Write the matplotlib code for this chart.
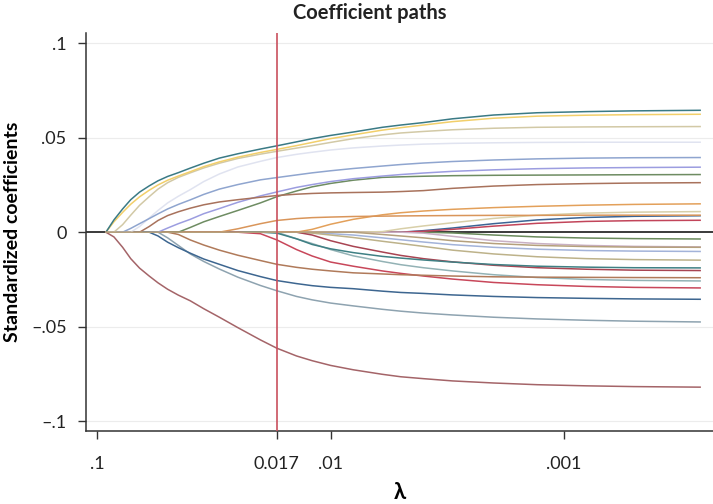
import matplotlib
matplotlib.use("Agg")
import matplotlib.pyplot as plt
from matplotlib.ticker import NullLocator

plt.rcParams['font.family'] = ['Lato', 'DejaVu Sans']

# ----------------------------
# lambda grid
# ----------------------------
lam = [0.092, 0.085, 0.078, 0.072, 0.066, 0.06, 0.055, 0.05, 0.045, 0.04,
       0.035, 0.03, 0.025, 0.02, 0.017, 0.014, 0.012, 0.01, 0.008, 0.006,
       0.005, 0.004, 0.003, 0.002, 0.0013, 0.0008, 0.0005, 0.00026]
lam_cv = 0.017

# ----------------------------
# coefficient paths, positive side
# ----------------------------
teal_a = [0, 0.0065, 0.0123, 0.0172, 0.0212, 0.0245, 0.0272, 0.0295, 0.0315, 0.0339,
          0.0365, 0.0392, 0.0415, 0.0440, 0.0457, 0.0478, 0.0495, 0.0512, 0.0530, 0.0555,
          0.0567, 0.0580, 0.0600, 0.0620, 0.0632, 0.0638, 0.0642, 0.0645]
gold_a = [0, 0.0055, 0.0105, 0.0148, 0.0187, 0.0222, 0.025, 0.0275, 0.0297, 0.032,
          0.0347, 0.0372, 0.0397, 0.0422, 0.0438, 0.0458, 0.0475, 0.0495, 0.0515, 0.054,
          0.0553, 0.0567, 0.0585, 0.0603, 0.0614, 0.0619, 0.0622, 0.0624]
beige_a = [0, 0, 0.004, 0.009, 0.0142, 0.0188, 0.0228, 0.0262, 0.029, 0.0314,
           0.034, 0.0365, 0.039, 0.0413, 0.0428, 0.0445, 0.0458, 0.0475, 0.0495, 0.0515,
           0.0525, 0.0533, 0.0542, 0.055, 0.0555, 0.0557, 0.0558, 0.0559]
lav_a = [0, 0, 0, 0, 0.003, 0.0075, 0.0115, 0.0155, 0.019, 0.0225,
         0.0268, 0.0308, 0.0345, 0.0375, 0.0395, 0.0412, 0.0423, 0.0435, 0.0446, 0.0456,
         0.0461, 0.0466, 0.047, 0.0473, 0.0475, 0.0476, 0.0476, 0.0476]
steel_a = [0, 0, 0, 0.002, 0.0045, 0.0072, 0.0097, 0.0123, 0.0147, 0.0171,
           0.0200, 0.0228, 0.0252, 0.0277, 0.0289, 0.0303, 0.0314, 0.0325, 0.0337, 0.035,
           0.0358, 0.0366, 0.0374, 0.0382, 0.0388, 0.0392, 0.0394, 0.0395]
sienna_a = [0, 0, 0, 0, 0, 0.003, 0.0062, 0.0088, 0.0108, 0.0127,
            0.0145, 0.016, 0.0172, 0.0185, 0.0194, 0.0201, 0.0205, 0.0208, 0.021, 0.0212,
            0.0215, 0.022, 0.0232, 0.0244, 0.0252, 0.0257, 0.026, 0.0262]
purple_a = [0, 0, 0, 0, 0, 0, 0, 0.0022, 0.0045, 0.0068,
            0.0098, 0.0125, 0.0158, 0.0192, 0.0213, 0.0237, 0.0252, 0.0268, 0.0283, 0.0297,
            0.0305, 0.0313, 0.0322, 0.033, 0.0336, 0.034, 0.0342, 0.0344]
green_a = [0, 0, 0, 0, 0, 0, 0, 0, 0, 0.0025,
           0.0055, 0.0083, 0.0115, 0.0155, 0.0188, 0.0218, 0.024, 0.0258, 0.0275, 0.029,
           0.0293, 0.0296, 0.0299, 0.0301, 0.0302, 0.0303, 0.0304, 0.0305]
orange_a = [0, 0, 0, 0, 0, 0, 0, 0, 0, 0,
            0, 0, 0, 0, 0, 0, 0.0015, 0.0042, 0.0068, 0.0092,
            0.0103, 0.0112, 0.0121, 0.013, 0.0137, 0.0143, 0.0147, 0.015]
dkorange_a = [0, 0, 0, 0, 0, 0, 0, 0, 0, 0,
              0, 0, 0.0018, 0.0045, 0.0062, 0.0072, 0.0077, 0.008, 0.0083, 0.0085,
              0.0086, 0.0087, 0.0088, 0.0089, 0.0089, 0.009, 0.009, 0.009]
tan_a = [0, 0, 0, 0, 0, 0, 0, 0, 0, 0,
         0, 0, 0, 0, 0, 0, 0, 0, 0, 0.0003,
         0.0018, 0.0033, 0.005, 0.0073, 0.009, 0.0101, 0.0106, 0.0109]
navy_a = [0, 0, 0, 0, 0, 0, 0, 0, 0, 0,
          0, 0, 0, 0, 0, 0, 0, 0, 0, 0,
          0, 0.0008, 0.0022, 0.0045, 0.0065, 0.0078, 0.0084, 0.0087]
red_a = [0, 0, 0, 0, 0, 0, 0, 0, 0, 0,
         0, 0, 0, 0, 0, 0, 0, 0, 0, 0,
         0, 0.0005, 0.0015, 0.0032, 0.0047, 0.0057, 0.0061, 0.0063]

# ----------------------------
# coefficient paths, negative side
# ----------------------------
maroon_b = [0, -0.0025, -0.008, -0.014, -0.019, -0.0232, -0.0268, -0.0302, -0.0333, -0.0363,
            -0.0405, -0.045, -0.0505, -0.057, -0.0614, -0.0655, -0.068, -0.0705, -0.0728, -0.0752,
            -0.0765, -0.0775, -0.0787, -0.0798, -0.0807, -0.0813, -0.0817, -0.082]
navy_b = [0, 0, 0, 0, 0, 0, -0.002, -0.0053, -0.0082, -0.0111,
          -0.0142, -0.0170, -0.0203, -0.0235, -0.0256, -0.0272, -0.0283, -0.0292, -0.0299, -0.0312,
          -0.0319, -0.0324, -0.0332, -0.034, -0.0346, -0.035, -0.0353, -0.0355]
grey_b = [0, 0, 0, 0, 0, 0, 0, -0.003, -0.007, -0.0115,
          -0.0155, -0.0195, -0.0238, -0.0282, -0.0310, -0.0340, -0.0358, -0.0375, -0.039, -0.0408,
          -0.0418, -0.0428, -0.0438, -0.045, -0.0459, -0.0466, -0.0471, -0.0475]
sienna_b = [0, 0, 0, 0, 0, 0, 0, 0, -0.0012, -0.0041,
            -0.0068, -0.0095, -0.0122, -0.015, -0.0170, -0.0186, -0.0196, -0.0205, -0.0215, -0.0221,
            -0.0225, -0.0228, -0.0232, -0.0236, -0.0238, -0.0239, -0.024, -0.0241]
red_b = [0, 0, 0, 0, 0, 0, 0, 0, 0, 0,
         0, 0, 0, -0.0008, -0.0041, -0.0092, -0.0126, -0.0158, -0.0180, -0.0205,
         -0.0218, -0.0232, -0.0248, -0.0266, -0.0278, -0.0287, -0.0292, -0.0295]
crimson_b = [0, 0, 0, 0, 0, 0, 0, 0, 0, 0,
             0, 0, 0, 0, 0, 0, -0.0015, -0.0045, -0.0075, -0.0105,
             -0.0123, -0.014, -0.0157, -0.0175, -0.0188, -0.0196, -0.0201, -0.0203]
teal_b = [0, 0, 0, 0, 0, 0, 0, 0, 0, 0,
          0, 0, 0, 0, -0.0005, -0.0035, -0.0065, -0.0088, -0.0108, -0.0128,
          -0.0137, -0.0147, -0.0158, -0.0171, -0.018, -0.0185, -0.0188, -0.0189]
greyteal_b = [0, 0, 0, 0, 0, 0, 0, 0, 0, 0,
              0, 0, 0, 0, 0, -0.0035, -0.006, -0.0092, -0.0125, -0.0155,
              -0.0172, -0.0188, -0.0205, -0.0225, -0.024, -0.025, -0.0255, -0.0258]
khaki_b = [0, 0, 0, 0, 0, 0, 0, 0, 0, 0,
           0, 0, 0, 0, 0, 0, -0.0005, -0.0015, -0.0028, -0.0048,
           -0.006, -0.0075, -0.0095, -0.0115, -0.013, -0.014, -0.0145, -0.0148]
ltblue_b = [0, 0, 0, 0, 0, 0, 0, 0, 0, 0,
            0, 0, 0, 0, 0, 0, -0.0003, -0.0008, -0.0015, -0.003,
            -0.004, -0.0052, -0.0066, -0.008, -0.009, -0.0097, -0.01, -0.0102]
mauve_b = [0, 0, 0, 0, 0, 0, 0, 0, 0, 0,
           0, 0, 0, 0, 0, 0, 0, 0, 0, 0,
           0, -0.0005, -0.0022, -0.0045, -0.006, -0.007, -0.0075, -0.0078]
browntan_b = [0, 0, 0, 0, 0, 0, 0, 0, 0, 0,
              0, 0, 0, 0, 0, 0, 0, 0, 0, -0.0012,
              -0.002, -0.003, -0.0045, -0.006, -0.007, -0.0076, -0.0079, -0.008]
green_b = [0, 0, 0, 0, 0, 0, 0, 0, 0, 0,
           0, 0, 0, 0, 0, 0, 0, 0, 0, 0,
           0, 0, -0.0004, -0.0015, -0.0025, -0.0031, -0.0034, -0.0036]

paths = [
    (green_b, "#6a8a5c"), (navy_a, "#3c6595"), (red_a, "#c2455a"),
    (mauve_b, "#c9b0c4"), (ltblue_b, "#a3b3d9"), (khaki_b, "#bdb28a"),
    (tan_a, "#d8cfa8"), (crimson_b, "#a84452"), (orange_a, "#e3a05a"),
    (greyteal_b, "#93b2b5"), (teal_b, "#3f8084"), (red_b, "#c8475a"),
    (dkorange_a, "#d9955a"), (green_a, "#6e8c62"), (sienna_b, "#b07a5a"),
    (purple_a, "#9c9de0"), (grey_b, "#8ea3b0"), (navy_b, "#3d6690"),
    (sienna_a, "#a8725c"), (lav_a, "#e0e3f0"), (steel_a, "#8fa5cf"),
    (beige_a, "#d2c9a6"), (gold_a, "#f2cf6a"), (teal_a, "#3a7a85"),
    (maroon_b, "#a46468"), (browntan_b, "#b5a07c"),
]

# ----------------------------
# plot
# ----------------------------
fig = plt.figure(figsize=(7.13, 5.04), dpi=100)
ax = fig.add_axes([86 / 713, 73 / 504, 627 / 713, 398 / 504])

for yv in [-0.1, -0.05, 0.05, 0.1]:
    ax.axhline(yv, color="#ececec", lw=0.8, zorder=0)
ax.axhline(0, color="#2b2b2b", lw=1.3, zorder=1)

for vals, col in paths:
    ax.plot(lam, vals, color=col, lw=1.1, zorder=2)

ax.axvline(lam_cv, color="#c9505e", lw=1.2, zorder=3)

ax.set_xscale("log")
ax.set_xlim(0.112, 0.000229)
ax.set_ylim(-0.1052, 0.1054)

ax.set_xticks([0.1, lam_cv, 0.01, 0.001])
ax.set_xticklabels([".1", "0.017", ".01", ".001"])
ax.xaxis.set_minor_locator(NullLocator())
ax.set_yticks([-0.1, -0.05, 0, 0.05, 0.1])
ax.set_yticklabels(["\u2013.1", "\u2013.05", "0", ".05", ".1"])

for s in ["top", "right"]:
    ax.spines[s].set_visible(False)
for s in ["left", "bottom"]:
    ax.spines[s].set_color("#333333")
    ax.spines[s].set_linewidth(1.1)

ax.tick_params(axis="both", direction="out", length=6, width=1.0, color="#333333",
               labelsize=13, labelcolor="#222222")
ax.tick_params(axis="x", pad=12)
ax.tick_params(axis="y", pad=8)

ax.set_ylabel("Standardized coefficients", fontsize=14, fontweight="bold", labelpad=7)
ax.set_xlabel("\u03bb", fontsize=16, fontweight="bold", labelpad=7)
fig.text(370 / 713, 1 - 13 / 504, "Coefficient paths", ha="center", va="center",
         fontsize=14.5, fontweight="bold", color="#222222")

fig.savefig("out.png", dpi=100)
